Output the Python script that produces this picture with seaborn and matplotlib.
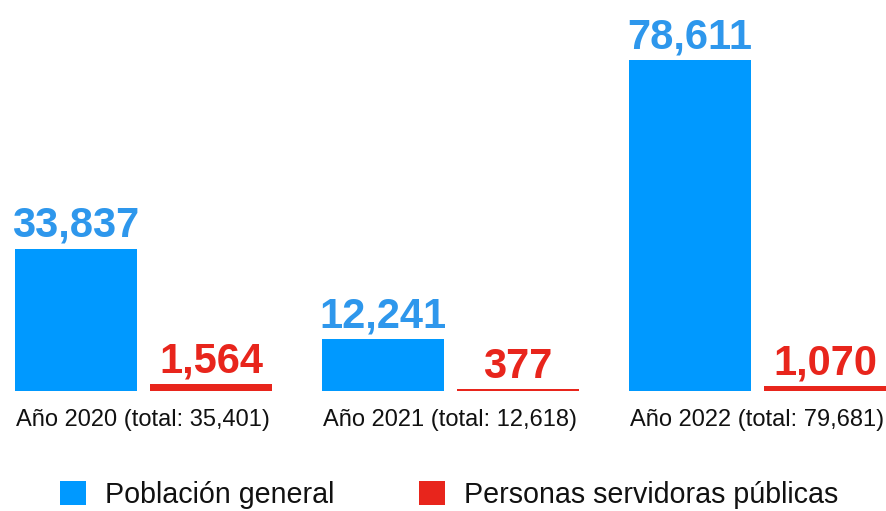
import matplotlib
matplotlib.use("Agg")
import matplotlib.pyplot as plt
from matplotlib.patches import Patch
import seaborn as sns
import pandas as pd

# Data
years = ["2020", "2021", "2022"]
series = ["Población general", "Personas servidoras públicas"]
poblacion_general = [33837, 12241, 78611]
servidores_publicos = [1564, 377, 1070]

colors = {"Población general": "#0099ff", "Personas servidoras públicas": "#e8251c"}
text_colors = {"Población general": "#2e97ec", "Personas servidoras públicas": "#e8251c"}

df = pd.DataFrame({
    "year": years * 2,
    "serie": [series[0]] * 3 + [series[1]] * 3,
    "value": poblacion_general + servidores_publicos,
})

sns.set_theme(style="white")
plt.rcParams["font.family"] = ["Liberation Sans", "DejaVu Sans"]

fig = plt.figure(figsize=(8.87, 5.11), dpi=100)
ax = fig.add_axes([0.0, 120 / 511, 1.0, 391 / 511])

sns.barplot(data=df, x="year", y="value", hue="serie", hue_order=series,
            palette=colors, width=0.88, gap=0.096, saturation=1,
            legend=False, ax=ax, edgecolor="none", linewidth=0)

for container, name in zip(ax.containers, series):
    ax.bar_label(container, labels=[f"{v:,.0f}" for v in container.datavalues],
                 padding=2, fontsize=30, fontweight="bold",
                 color=text_colors[name])

ax.set_xlim(-0.467, 2.422)
ax.set_ylim(0, 92860)

totals = [a + b for a, b in zip(poblacion_general, servidores_publicos)]
ax.set_xticks(range(len(years)))
ax.set_xticklabels([f"Año {y} (total: {t:,})" for y, t in zip(years, totals)],
                   fontsize=17, color="#111111")
ax.tick_params(axis="x", length=0, pad=13)
ax.set_yticks([])
ax.set_xlabel("")
ax.set_ylabel("")
for s in ax.spines.values():
    s.set_visible(False)

handles = [Patch(facecolor=colors[s], edgecolor="none") for s in series]
fig.legend(handles, series, loc="center", bbox_to_anchor=(0.506, 1 - 495 / 511),
           ncol=2, frameon=False, fontsize=20.6, handlelength=0.91, handleheight=0.94,
           handletextpad=0.66, columnspacing=2.95, borderpad=0, borderaxespad=0,
           labelcolor="#111111")

fig.savefig("out.png", dpi=100, facecolor="white")
